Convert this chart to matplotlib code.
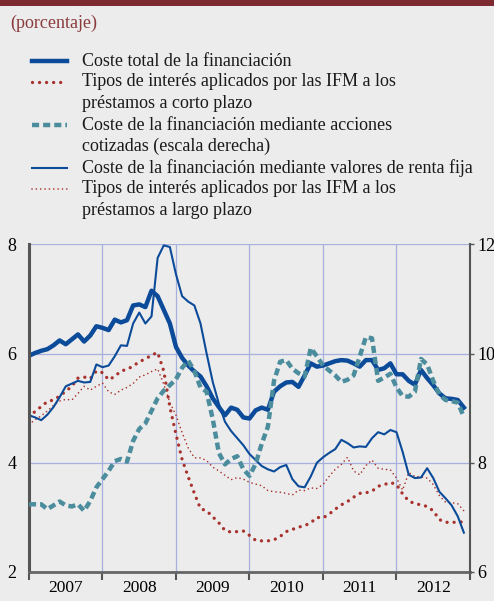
import numpy as np
import matplotlib
matplotlib.use("Agg")
import matplotlib.pyplot as plt
from matplotlib.lines import Line2D
from matplotlib.patches import Rectangle

plt.rcParams['font.family'] = ['Liberation Serif', 'DejaVu Serif']

# monthly data, Jan 2007 - Dec 2012
coste_total = [5.96, 6.01, 6.05, 6.08, 6.15, 6.24, 6.17, 6.26, 6.35, 6.22, 6.33, 6.50,
               6.47, 6.43, 6.62, 6.57, 6.61, 6.88, 6.90, 6.85, 7.15, 7.05, 6.80, 6.55,
               6.12, 5.92, 5.78, 5.67, 5.58, 5.40, 5.18, 5.02, 4.87, 5.01, 4.97, 4.83,
               4.81, 4.96, 5.01, 4.97, 5.30, 5.40, 5.47, 5.48, 5.39, 5.60, 5.82, 5.76,
               5.78, 5.82, 5.86, 5.88, 5.87, 5.82, 5.76, 5.88, 5.88, 5.70, 5.73, 5.82,
               5.62, 5.62, 5.50, 5.43, 5.70, 5.55, 5.42, 5.27, 5.18, 5.17, 5.15, 5.01]

tipos_corto = [4.84, 4.94, 5.03, 5.12, 5.15, 5.22, 5.31, 5.40, 5.55, 5.57, 5.54, 5.68,
               5.65, 5.52, 5.58, 5.68, 5.71, 5.77, 5.85, 5.90, 5.97, 6.02, 5.68, 5.02,
               4.52, 4.06, 3.74, 3.44, 3.16, 3.12, 3.01, 2.90, 2.76, 2.73, 2.74, 2.75,
               2.67, 2.58, 2.57, 2.57, 2.59, 2.65, 2.74, 2.78, 2.82, 2.85, 2.90, 3.00,
               2.99, 3.06, 3.15, 3.23, 3.29, 3.37, 3.44, 3.45, 3.48, 3.57, 3.60, 3.64,
               3.60, 3.43, 3.30, 3.25, 3.23, 3.20, 3.12, 2.96, 2.91, 2.91, 2.91, 2.92]

# right-hand scale
acciones = [7.24, 7.24, 7.24, 7.15, 7.22, 7.29, 7.22, 7.20, 7.24, 7.12, 7.30, 7.55,
            7.70, 7.85, 8.03, 8.07, 8.02, 8.40, 8.62, 8.72, 8.95, 9.18, 9.32, 9.42,
            9.53, 9.74, 9.87, 9.68, 9.38, 9.30, 8.80, 8.18, 7.97, 8.07, 8.12, 7.88,
            7.76, 7.98, 8.35, 8.66, 9.50, 9.85, 9.88, 9.72, 9.64, 9.58, 10.10, 9.95,
            9.78, 9.69, 9.60, 9.48, 9.52, 9.60, 9.95, 10.30, 10.28, 9.50, 9.56, 9.63,
            9.38, 9.22, 9.21, 9.30, 9.90, 9.80, 9.50, 9.25, 9.15, 9.13, 9.10, 8.84]

renta_fija = [4.87, 4.83, 4.78, 4.88, 5.02, 5.20, 5.40, 5.45, 5.50, 5.47, 5.48, 5.80,
              5.75, 5.78, 5.95, 6.15, 6.14, 6.55, 6.75, 6.55, 6.68, 7.75, 7.98, 7.95,
              7.45, 7.05, 6.95, 6.88, 6.55, 6.00, 5.48, 5.08, 4.75, 4.58, 4.45, 4.32,
              4.16, 4.05, 3.94, 3.88, 3.84, 3.92, 3.96, 3.70, 3.57, 3.55, 3.75, 4.00,
              4.10, 4.18, 4.25, 4.42, 4.36, 4.28, 4.30, 4.29, 4.45, 4.56, 4.52, 4.60,
              4.56, 4.20, 3.78, 3.72, 3.73, 3.90, 3.72, 3.47, 3.35, 3.22, 3.02, 2.72]

tipos_largo = [4.70, 4.79, 4.86, 4.95, 5.05, 5.13, 5.16, 5.15, 5.27, 5.40, 5.33, 5.40,
               5.46, 5.30, 5.25, 5.33, 5.38, 5.45, 5.57, 5.61, 5.67, 5.72, 5.44, 5.10,
               4.87, 4.55, 4.27, 4.09, 4.09, 4.04, 3.92, 3.85, 3.77, 3.69, 3.73, 3.70,
               3.64, 3.61, 3.58, 3.49, 3.47, 3.46, 3.44, 3.41, 3.50, 3.49, 3.54, 3.53,
               3.60, 3.75, 3.88, 3.97, 4.10, 3.85, 3.78, 3.95, 4.05, 3.90, 3.88, 3.87,
               3.72, 3.50, 3.82, 3.75, 3.74, 3.72, 3.60, 3.40, 3.28, 3.27, 3.25, 3.12]

years = [2007, 2008, 2009, 2010, 2011, 2012]
labels = [
    "Coste total de la financiación",
    "Tipos de interés aplicados por las IFM a los\npréstamos a corto plazo",
    "Coste de la financiación mediante acciones\ncotizadas (escala derecha)",
    "Coste de la financiación mediante valores de renta fija",
    "Tipos de interés aplicados por las IFM a los\npréstamos a largo plazo",
]

x = 2007 + np.arange(len(coste_total)) / 12

bg = '#ececec'
blue = '#0b4b99'
red = '#a8322d'
teal = '#4b8d9d'
grid_c = '#a7b0dc'

W, H = 494, 601
fig = plt.figure(figsize=(W / 100, H / 100), dpi=100, facecolor=bg)
fig.add_artist(Rectangle((0, 1 - 6 / H), 1, 6 / H, transform=fig.transFigure,
                         color='#7d2a30', lw=0))
fig.text(10 / W, 1 - 23 / H, "(porcentaje)", color='#8a3a3c', fontsize=13,
         va='center', ha='left')

ax = fig.add_axes([29 / W, 1 - 572 / H, 441 / W, 327.7 / H])
ax.set_facecolor(bg)
ax2 = ax.twinx()

styles = [
    dict(color=blue, lw=3.2, solid_joinstyle='round'),
    dict(color=red, lw=2.4, linestyle=(0, (0.01, 2.1)), dash_capstyle='round'),
    dict(color=teal, lw=3.2, linestyle=(0, (1.6, 0.9))),
    dict(color=blue, lw=1.5),
    dict(color=red, lw=1.2, linestyle=(0, (0.01, 2.6)), dash_capstyle='round'),
]

ax.plot(x, tipos_largo, **styles[4])
ax.plot(x, tipos_corto, **styles[1])
ax.plot(x, renta_fija, **styles[3])
ax.plot(x, coste_total, **styles[0])
ax2.plot(x, acciones, **styles[2])

ax.set_xlim(2007, 2013)
ax.set_ylim(2, 8)
ax2.set_ylim(6, 12)
ax.set_yticks([2, 4, 6, 8])
ax2.set_yticks([6, 8, 10, 12])
ax.set_xticks(years + [2013])
ax.set_xticklabels([])
ax.set_xticks([y + 0.5 for y in years], minor=True)
ax.set_xticklabels([str(y) for y in years], minor=True)
ax.grid(True, color=grid_c, lw=0.9)
ax.set_axisbelow(True)

ax.tick_params(axis='x', which='major', direction='out', length=6, width=1.5, color='#555555')
ax.tick_params(axis='x', which='minor', length=0, pad=6, labelsize=12.5)
ax.tick_params(axis='y', length=0, pad=9, labelsize=13)
ax2.tick_params(axis='y', length=3, width=1, color='#555555', pad=2, labelsize=13)

for a in (ax, ax2):
    a.spines['top'].set_visible(False)
ax2.spines['left'].set_visible(False)
ax2.spines['bottom'].set_visible(False)
ax.spines['left'].set_linewidth(2.2)
ax.spines['left'].set_color('#555555')
ax.spines['bottom'].set_linewidth(2.0)
ax.spines['bottom'].set_color('#666666')
ax.spines['right'].set_visible(False)
ax2.spines['right'].set_linewidth(1.5)
ax2.spines['right'].set_color('#555555')

# legend drawn by hand so that every text line keeps the same spacing
rows = [61, 82, 125, 168, 189]
for lab, yc, st in zip(labels, rows, styles):
    fig.add_artist(Line2D([32 / W, 67 / W], [1 - yc / H] * 2, transform=fig.transFigure, **st))
    for k, line in enumerate(lab.split("\n")):
        fig.text(82 / W, 1 - (yc + 21.4 * k) / H, line, fontsize=13,
                 va='center', ha='left', color='#1a1a1a')

fig.savefig("out.png", dpi=100, facecolor=bg)
